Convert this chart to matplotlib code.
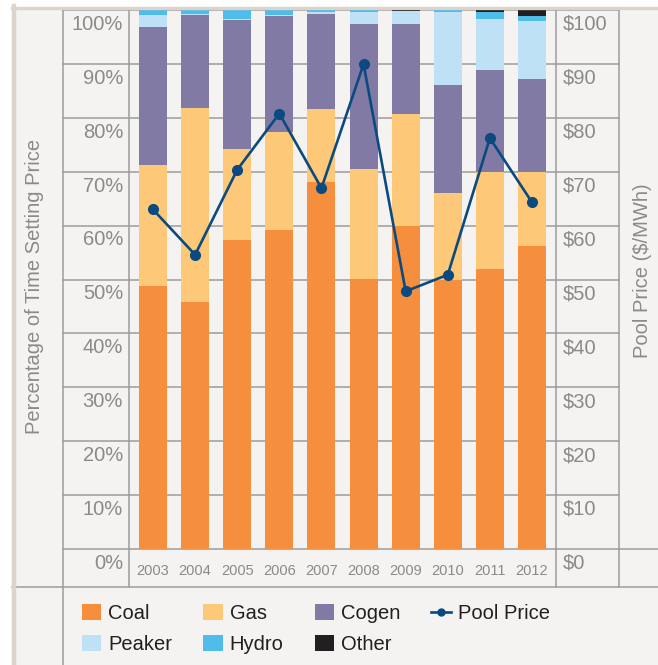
import matplotlib
matplotlib.use("Agg")
import matplotlib.pyplot as plt
from matplotlib.lines import Line2D
from matplotlib.patches import Rectangle, Patch

plt.rcParams['font.family'] = ['Liberation Sans', 'DejaVu Sans']

# data
years = ["2003", "2004", "2005", "2006", "2007", "2008", "2009", "2010", "2011", "2012"]
coal = [48.8, 45.8, 57.3, 59.2, 68.1, 50.1, 59.9, 49.9, 51.9, 56.3]
gas = [22.4, 36.1, 16.9, 18.1, 13.6, 20.4, 20.8, 16.1, 18.1, 13.6]
cogen = [25.7, 17.2, 23.9, 21.6, 17.6, 26.9, 16.7, 20.0, 18.9, 17.3]
peaker = [2.1, 0.2, 0.2, 0.2, 0.3, 2.2, 2.4, 13.6, 9.4, 10.7]
hydro = [1.0, 0.7, 1.7, 0.9, 0.4, 0.4, 0.0, 0.4, 1.4, 1.0]
other = [0.0, 0.0, 0.0, 0.0, 0.0, 0.0, 0.2, 0.0, 0.3, 1.1]
pool_price = [62.99, 54.59, 70.36, 80.79, 66.95, 89.95, 47.81, 50.88, 76.22, 64.32]

pct_ticks = list(range(0, 101, 10))
pct_labels = [f"{v}%" for v in pct_ticks]
price_labels = [f"${v}" for v in pct_ticks]

series = [("Coal", coal, "#f58e3d"), ("Gas", gas, "#fdc978"), ("Cogen", cogen, "#817aa5"),
          ("Peaker", peaker, "#bee1f6"), ("Hydro", hydro, "#4fbce9"), ("Other", other, "#231f20")]
line_col = "#0b4a80"
grid_col = "#9c9c9c"
txt_col = "#8a8a8a"
fs = 14.5

W, H = 658, 665
fig = plt.figure(figsize=(W / 100, H / 100), dpi=100)
fig.patch.set_facecolor("white")

def fx(px):
    return px / W

def fy(py):
    return 1 - py / H

# panel background + beige border
fig.add_artist(Rectangle((fx(12), 0), 1 - fx(12), fy(7), transform=fig.transFigure,
                         facecolor="#f4f3f1", edgecolor="none", zorder=-5))
fig.add_artist(Line2D([fx(14), fx(14)], [0, fy(6)], transform=fig.transFigure,
                      color="#dcd3cb", lw=3.2, zorder=5))
fig.add_artist(Line2D([fx(12), 1], [fy(7.5), fy(7.5)], transform=fig.transFigure,
                      color="#dcd3cb", lw=2.4, zorder=5))

ax = fig.add_axes([fx(129), fy(549), (556 - 129) / W, (549 - 10) / H])
ax.set_xlim(-0.57, 9.57)
ax.set_ylim(0, 100)
ax.patch.set_visible(False)
for s in ax.spines.values():
    s.set_visible(False)

def axx(px):
    return (px - 129) / (556 - 129)

# table grid
for v in pct_ticks[1:]:
    ax.axhline(v, xmin=axx(63), xmax=axx(619), color=grid_col, lw=1.1, clip_on=False, zorder=0.5)
ax.axhline(0, xmin=axx(63), xmax=axx(658), color=grid_col, lw=1.1, clip_on=False, zorder=0.5)
for xp, ytop, ybot in [(63, 10, 665), (129, 10, 587), (556, 10, 587), (619, 10, 587)]:
    fig.add_artist(Line2D([fx(xp), fx(xp)], [fy(ytop), fy(ybot)], transform=fig.transFigure,
                          color=grid_col, lw=1.1, zorder=1))
fig.add_artist(Line2D([fx(12), 1], [fy(587), fy(587)], transform=fig.transFigure,
                      color=grid_col, lw=1.1, zorder=1))

# stacked bars
x = list(range(len(years)))
bottom = [0.0] * len(years)
for name, vals, col in series:
    ax.bar(x, vals, 0.665, bottom=bottom, color=col, edgecolor="none", zorder=2)
    bottom = [b + v for b, v in zip(bottom, vals)]

ax.set_xticks(x, years)
ax.set_yticks([])
ax.tick_params(axis="x", length=0, pad=11, labelsize=10.5, labelcolor=txt_col)

tr = ax.get_yaxis_transform()
for v, lab, plab in zip(pct_ticks, pct_labels, price_labels):
    ax.text(axx(123), v - 0.9, lab, transform=tr, ha="right", va="top",
            fontsize=fs, color=txt_col)
    ax.text(axx(563), v - 0.9, plab, transform=tr, ha="left", va="top",
            fontsize=fs, color=txt_col)

# pool price line
ax2 = ax.twinx()
ax2.set_ylim(0, 100)
ax2.axis("off")
ax2.plot(x, pool_price, color=line_col, lw=1.9, marker="o", markersize=7, zorder=5)

fig.text(fx(35), fy(286), "Percentage of Time Setting Price", rotation=90,
         ha="center", va="center", fontsize=fs, color=txt_col)
fig.text(fx(643), fy(271), "Pool Price ($/MWh)", rotation=90,
         ha="center", va="center", fontsize=fs, color=txt_col)

# legend (column-major order so rows read Coal/Gas/Cogen/Pool Price, Peaker/Hydro/Other)
patches = {n: Patch(facecolor=c, edgecolor="none", label=n) for n, v, c in series}
price_handle = Line2D([], [], color=line_col, lw=1.9, marker="o", markersize=5, label="Pool Price")
handles = [patches["Coal"], patches["Peaker"], patches["Gas"], patches["Hydro"],
           patches["Cogen"], patches["Other"], price_handle]
fig.legend(handles=handles, ncol=4, loc="upper left",
           bbox_to_anchor=(fx(82), fy(604)), frameon=False, fontsize=fs,
           handlelength=0.95, handleheight=0.85, handletextpad=0.35,
           columnspacing=1.55, labelspacing=0.6, borderpad=0, borderaxespad=0,
           labelcolor="#231f20")

fig.savefig("out.png", dpi=100, facecolor=fig.get_facecolor())
